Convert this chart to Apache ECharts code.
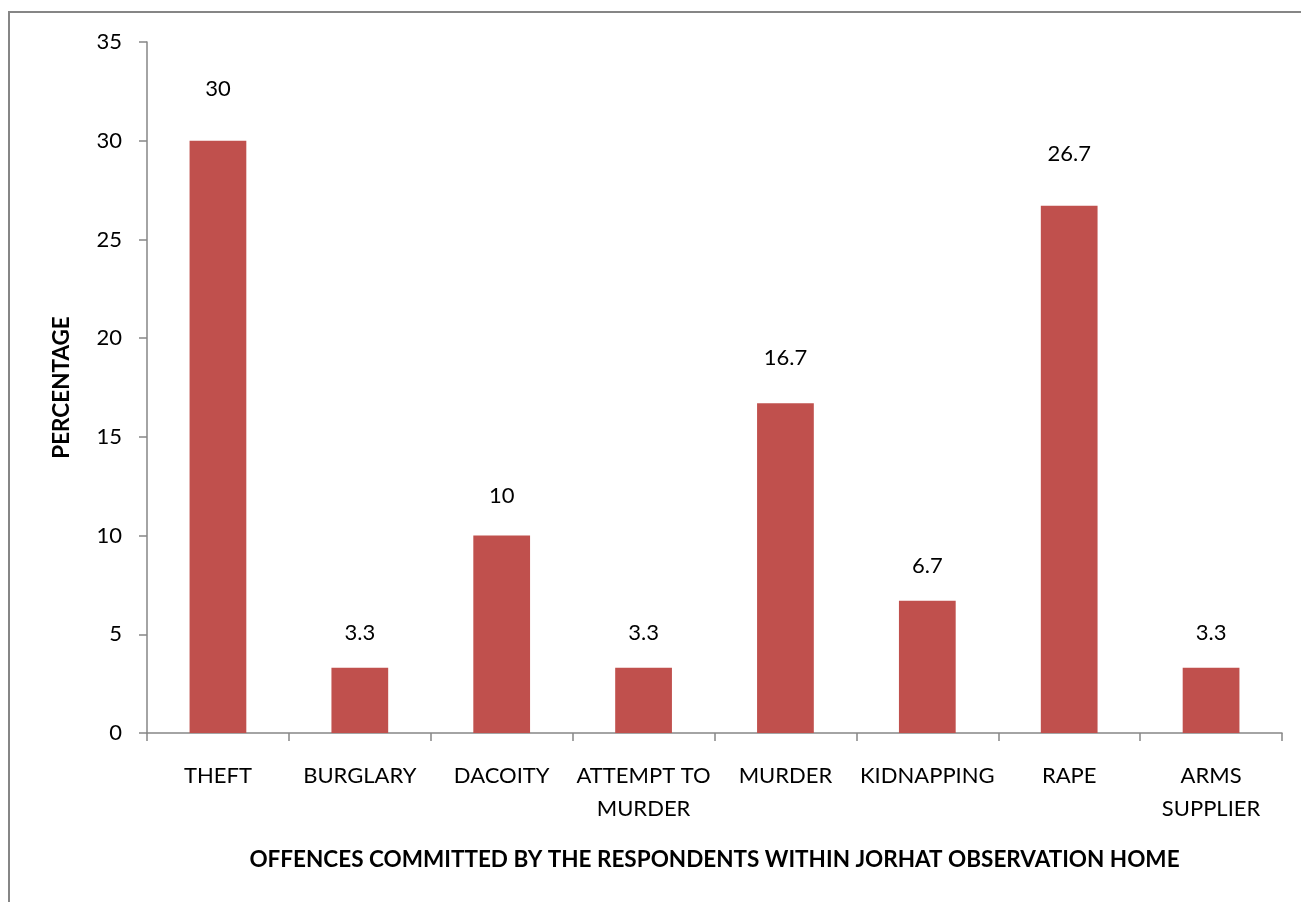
<!DOCTYPE html>
<html><head><meta charset="utf-8">
<script src="https://cdn.jsdelivr.net/npm/echarts@6/dist/echarts.min.js"></script>
<style>html,body{margin:0;padding:0;background:#fff}#c{width:1301px;height:902px}</style>
</head><body><div id="c"></div>
<script>
const categories = ['THEFT','BURGLARY','DACOITY','ATTEMPT TO\nMURDER','MURDER','KIDNAPPING','RAPE','ARMS\nSUPPLIER'];
const values = [30, 3.3, 10, 3.3, 16.7, 6.7, 26.7, 3.3];
const yTicks = [0,5,10,15,20,25,30,35];
const FONT = 'Lato, "Open Sans", sans-serif';
// label gap above bar grows slightly with bar height (as in the reference)
const labelGap = v => v >= 25 ? 41 : v >= 15 ? 34 : v >= 10 ? 29 : 24;
const chart = echarts.init(document.getElementById('c'));
chart.setOption({
  animation:false,
  backgroundColor:'#fff',
  graphic:[{type:'rect',shape:{x:9,y:12,width:1400,height:1000},style:{fill:'none',stroke:'#868686',lineWidth:2},silent:true}],
  grid:{left:147,top:42,right:19,bottom:169},
  xAxis:{type:'category',data:categories,
    name:'OFFENCES COMMITTED BY THE RESPONDENTS WITHIN JORHAT OBSERVATION HOME',
    nameLocation:'middle',nameGap:115,
    nameTextStyle:{fontFamily:FONT,fontWeight:'bold',fontSize:22.5,color:'#000'},
    axisLine:{lineStyle:{color:'#868686',width:1.5}},
    axisTick:{show:true,length:8,alignWithLabel:false,lineStyle:{color:'#868686',width:1.5}},
    axisLabel:{interval:0,fontFamily:FONT,fontSize:22,color:'#000',lineHeight:33,margin:26}},
  yAxis:{type:'value',min:0,max:35,interval:5,
    name:'PERCENTAGE',nameLocation:'middle',nameGap:74,nameRotate:90,
    nameTextStyle:{fontFamily:FONT,fontWeight:'bold',fontSize:22.5,color:'#000'},
    splitLine:{show:false},
    axisLine:{show:true,lineStyle:{color:'#868686',width:1.5}},
    axisTick:{show:true,length:8,inside:false,lineStyle:{color:'#868686',width:1.5}},
    axisLabel:{fontFamily:FONT,fontSize:22,color:'#000',margin:25,
      formatter:v=>yTicks.includes(v)?String(v):''}},
  series:[{type:'bar',
    data:values.map(v=>({value:v,label:{distance:labelGap(v)}})),
    barWidth:'40%',
    itemStyle:{color:'#C0504D'},
    label:{show:true,position:'top',fontFamily:FONT,fontSize:22,color:'#000'}}]
});
</script></body></html>
